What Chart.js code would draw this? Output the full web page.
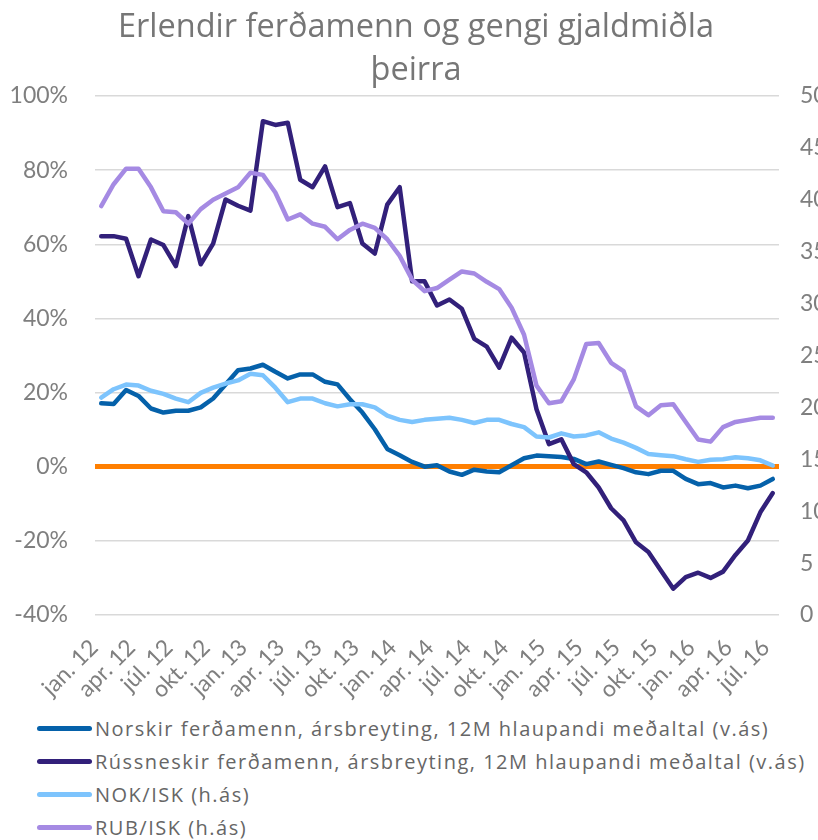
<!DOCTYPE html>
<html>
<head>
<meta charset="utf-8">
<script src="https://cdn.jsdelivr.net/npm/chart.js@4.4.1/dist/chart.umd.min.js"></script>
<style>
  body { margin: 0; background: #fff; overflow: hidden; }
  #wrap { position: relative; width: 832px; height: 712px; }
  #legend { padding-left: 37px; font-family: "Open Sans", sans-serif; font-size: 20px; letter-spacing: 1.5px; color: #666; }
  .item { display: flex; align-items: center; height: 33px; white-space: nowrap; }
  .swatch { width: 55px; height: 5px; border-radius: 3px; margin-right: 3px; }
</style>
</head>
<body>
<div id="wrap"><canvas id="chart"></canvas></div>
<div id="legend"></div>
<script>
var categories = [
  "jan. 12","feb. 12","mar. 12","apr. 12","maí. 12","jún. 12","júl. 12","ágú. 12","sep. 12","okt. 12","nóv. 12","des. 12",
  "jan. 13","feb. 13","mar. 13","apr. 13","maí. 13","jún. 13","júl. 13","ágú. 13","sep. 13","okt. 13","nóv. 13","des. 13",
  "jan. 14","feb. 14","mar. 14","apr. 14","maí. 14","jún. 14","júl. 14","ágú. 14","sep. 14","okt. 14","nóv. 14","des. 14",
  "jan. 15","feb. 15","mar. 15","apr. 15","maí. 15","jún. 15","júl. 15","ágú. 15","sep. 15","okt. 15","nóv. 15","des. 15",
  "jan. 16","feb. 16","mar. 16","apr. 16","maí. 16","jún. 16","júl. 16"
];

// arsbreyting, % (vinstri as)
var norskir = [17.1,16.9,20.7,19.1,15.7,14.6,15.1,15.1,16.0,18.4,22.2,26.0,26.5,27.5,25.6,23.8,24.9,24.9,22.9,22.2,
  18.2,14.6,10.1,4.8,3.1,1.3,0.0,0.4,-1.3,-2.2,-0.8,-1.3,-1.5,0.4,2.3,3.0,2.8,2.6,2.1,0.7,
  1.4,0.5,-0.4,-1.5,-2.0,-1.1,-1.1,-3.3,-4.7,-4.4,-5.6,-5.1,-5.8,-5.1,-3.3];
var russneskir = [62.2,62.2,61.5,51.4,61.3,59.8,54.1,67.6,54.6,60.2,72.1,70.4,69.1,93.2,92.2,92.8,77.4,75.4,81.0,70.0,
  71.1,60.2,57.5,70.7,75.4,50.0,50.0,43.5,45.1,42.6,34.5,32.4,26.7,34.8,30.8,15.5,6.1,7.4,0.7,-1.5,
  -5.6,-11.2,-14.5,-20.4,-23.0,-28.0,-32.9,-29.8,-28.6,-30.0,-28.3,-23.8,-19.9,-12.3,-7.1];

// gengi (haegri as)
var nokIsk = [20.95,21.75,22.2,22.1,21.6,21.3,20.85,20.5,21.4,21.9,22.3,22.6,23.25,23.1,21.9,20.5,20.85,20.85,20.4,20.1,
  20.3,20.3,20.0,19.2,18.8,18.6,18.8,18.9,19.0,18.8,18.5,18.8,18.8,18.4,18.1,17.2,17.1,17.5,17.2,17.3,
  17.6,17.0,16.6,16.1,15.5,15.4,15.3,15.0,14.75,14.95,15.0,15.2,15.1,14.9,14.4];
var rubIsk = [39.4,41.5,43.0,43.0,41.2,38.9,38.8,37.7,39.1,40.0,40.6,41.2,42.6,42.4,40.7,38.1,38.6,37.7,37.4,36.2,
  37.1,37.7,37.3,36.2,34.6,32.3,31.2,31.5,32.3,33.1,32.9,32.1,31.4,29.6,27.0,22.1,20.4,20.6,22.7,26.1,
  26.2,24.3,23.5,20.1,19.25,20.2,20.3,18.6,16.9,16.7,18.1,18.6,18.8,19.0,19.0];

var seriesNames = [
  "Norskir ferðamenn, ársbreyting, 12M hlaupandi meðaltal (v.ás)",
  "Rússneskir ferðamenn, ársbreyting, 12M hlaupandi meðaltal (v.ás)",
  "NOK/ISK (h.ás)",
  "RUB/ISK (h.ás)"
];
var seriesColors = ["#0561AA", "#32207A", "#7DC4FD", "#A58AE3"];

Chart.defaults.font.family = "Lato, 'Open Sans', sans-serif";
Chart.defaults.color = "#7F7F7F";

function line(i, data, axis) {
  return {
    label: seriesNames[i],
    data: data,
    yAxisID: axis,
    borderColor: seriesColors[i],
    backgroundColor: seriesColors[i],
    borderWidth: 4.5,
    pointRadius: 0,
    tension: 0,
    borderJoinStyle: "round",
    borderCapStyle: "round",
    fill: false
  };
}

var config = {
  type: "line",
  data: {
    labels: categories,
    datasets: [
      line(3, rubIsk, "y1"),
      line(2, nokIsk, "y1"),
      line(1, russneskir, "y"),
      line(0, norskir, "y")
    ]
  },
  options: {
    responsive: true,
    maintainAspectRatio: false,
    animation: false,
    layout: { padding: 0 },
    plugins: {
      legend: { display: false },
      tooltip: { enabled: false },
      title: {
        display: true,
        text: ["Erlendir ferðamenn og gengi gjaldmiðla", "þeirra"],
        color: "#767676",
        font: { family: "'Open Sans', sans-serif", size: 32.5, weight: "normal", lineHeight: 1.3 },
        padding: { top: 7, bottom: 4.5 }
      }
    },
    scales: {
      x: {
        offset: true,
        grid: { display: false },
        border: { display: false },
        afterFit: function (s) { s.height = 97; },
        ticks: {
          autoSkip: false,
          minRotation: 45,
          maxRotation: 45,
          padding: 11,
          labelOffset: -7,
          font: { size: 23 },
          callback: function (val, i) {
            return i % 3 === 0 ? this.getLabelForValue(val) : "";
          }
        }
      },
      y: {
        position: "left",
        min: -40,
        max: 100,
        border: { display: false },
        afterFit: function (s) { s.width = 95; },
        grid: {
          drawTicks: false,
          color: function (c) { return c.tick && c.tick.value === 0 ? "#FF7F00" : "#D9D9D9"; },
          lineWidth: function (c) { return c.tick && c.tick.value === 0 ? 5 : 1.4; }
        },
        ticks: {
          stepSize: 20,
          padding: 27,
          font: { size: 23 },
          callback: function (v) { return v + "%"; }
        }
      },
      y1: {
        position: "right",
        min: 0,
        max: 50,
        border: { display: false },
        afterFit: function (s) { s.width = 53; },
        grid: { display: false, drawTicks: false },
        ticks: { stepSize: 5, padding: 21, font: { size: 23 } }
      }
    }
  }
};

var lineChart = new Chart(document.getElementById("chart"), config);

// legend, one entry per line like in the original
var legendEl = document.getElementById("legend");
seriesNames.forEach(function (name, i) {
  var row = document.createElement("div");
  row.className = "item";
  var sw = document.createElement("span");
  sw.className = "swatch";
  sw.style.background = seriesColors[i];
  var txt = document.createElement("span");
  txt.textContent = name;
  row.appendChild(sw);
  row.appendChild(txt);
  legendEl.appendChild(row);
});
</script>
</body>
</html>
